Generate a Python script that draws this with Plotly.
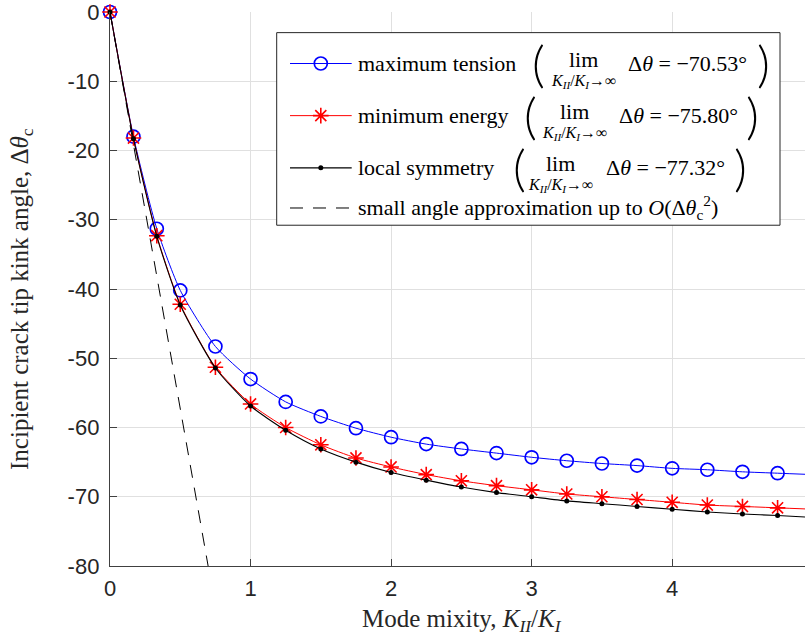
import plotly.graph_objects as go

# Mode mixity K_II/K_I at which the kink angle was evaluated
mode_mixity = [0.0, 0.167, 0.333, 0.5, 0.75, 1.0, 1.25, 1.5, 1.75, 2.0, 2.25, 2.5,
               2.75, 3.0, 3.25, 3.5, 3.75, 4.0, 4.25, 4.5, 4.75, 5.0]

# Incipient kink angle (degrees) for each criterion
max_tension = [0.0, -18.0, -31.3, -40.2, -48.3, -53.0, -56.3, -58.4, -60.1, -61.4, -62.4,
               -63.1, -63.7, -64.3, -64.8, -65.2, -65.5, -65.9, -66.1, -66.4, -66.6, -66.8]
min_energy = [0.0, -18.2, -32.3, -42.2, -51.3, -56.6, -60.0, -62.5, -64.4, -65.7, -66.8,
              -67.7, -68.4, -69.0, -69.6, -70.0, -70.4, -70.8, -71.2, -71.4, -71.6, -71.8]
local_symmetry = [0.0, -18.3, -32.4, -42.3, -51.4, -56.9, -60.4, -63.1, -65.0, -66.5, -67.6,
                  -68.6, -69.4, -70.0, -70.6, -71.0, -71.4, -71.8, -72.2, -72.5, -72.7, -73.0]

# Small angle approximation (straight line through the origin)
approx_x = [0.0, 0.70]
approx_y = [0.0, -80.2]

x_ticks = [0, 1, 2, 3, 4]
x_tick_labels = ["0", "1", "2", "3", "4"]
y_ticks = [0, -10, -20, -30, -40, -50, -60, -70, -80]
y_tick_labels = ["0", "-10", "-20", "-30", "-40", "-50", "-60", "-70", "-80"]

criteria = ["maximum tension", "minimum energy", "local symmetry"]
limit_values = ["\u221270.53\u00b0", "\u221275.80\u00b0", "\u221277.32\u00b0"]
approx_label = ("small angle approximation up to <i>O</i>(\u0394<i>\u03b8</i>"
                "<sub>c</sub><sup>2</sup>)")

W, H = 805, 639
L, R, T, B = 110, 0, 10, 73
AX = "#404040"
SERIF = "Liberation Serif"
SANS = "Liberation Sans"
DASH = "13px,10px"

fig = go.Figure()

fig.add_trace(go.Scatter(
    x=mode_mixity, y=max_tension, mode="lines+markers", cliponaxis=False,
    line=dict(color="#0000ff", width=1, shape="spline", smoothing=0.6),
    marker=dict(symbol="circle-open", size=13, color="#0000ff",
                line=dict(width=1.7, color="#0000ff")),
    showlegend=False))
fig.add_trace(go.Scatter(
    x=mode_mixity, y=min_energy, mode="lines+markers", cliponaxis=False,
    line=dict(color="#ff0000", width=1, shape="spline", smoothing=0.6),
    marker=dict(symbol="asterisk-open", size=13, color="#ff0000",
                line=dict(width=1.6, color="#ff0000")),
    showlegend=False))
fig.add_trace(go.Scatter(
    x=mode_mixity, y=local_symmetry, mode="lines+markers", cliponaxis=False,
    line=dict(color="#000000", width=1.1, shape="spline", smoothing=0.6),
    marker=dict(symbol="circle", size=5, color="#000000"),
    showlegend=False))
fig.add_trace(go.Scatter(
    x=approx_x, y=approx_y, mode="lines",
    line=dict(color="#000000", width=1, dash=DASH),
    showlegend=False))

# ---- legend, drawn on a pixel-based overlay axis pair ----
box_x0, box_x1, box_y0, box_y1 = 276.7, 780, 30.7, 224
fig.add_trace(go.Scatter(
    x=[box_x0, box_x1, box_x1, box_x0, box_x0],
    y=[box_y0, box_y0, box_y1, box_y1, box_y0],
    xaxis="x2", yaxis="y2", mode="lines", fill="toself", fillcolor="white",
    line=dict(color="#262626", width=1), hoverinfo="skip", showlegend=False))

row_y = [61.7, 114.0, 166.4, 206.7]
sample_x0, sample_x1, sample_mid = 290, 351.7, 320.8
styles = [
    dict(line=dict(color="#0000ff", width=1),
         marker=dict(symbol="circle-open", size=13, color="#0000ff",
                     line=dict(width=1.7, color="#0000ff"))),
    dict(line=dict(color="#ff0000", width=1),
         marker=dict(symbol="asterisk-open", size=13, color="#ff0000",
                     line=dict(width=1.6, color="#ff0000"))),
    dict(line=dict(color="#000000", width=1.1),
         marker=dict(symbol="circle", size=5, color="#000000")),
]
for ry, st in zip(row_y[:3], styles):
    fig.add_trace(go.Scatter(
        x=[sample_x0, sample_mid, sample_x1], y=[ry, ry, ry],
        xaxis="x2", yaxis="y2", mode="lines", line=st["line"],
        hoverinfo="skip", showlegend=False))
    fig.add_trace(go.Scatter(
        x=[sample_mid], y=[ry], xaxis="x2", yaxis="y2", mode="markers",
        marker=st["marker"], hoverinfo="skip", showlegend=False))
fig.add_trace(go.Scatter(
    x=[sample_x0, sample_x1], y=[row_y[3], row_y[3]], xaxis="x2", yaxis="y2",
    mode="lines", line=dict(color="#000000", width=1, dash=DASH),
    hoverinfo="skip", showlegend=False))

annotations = []


def txt(x, y, text, size=22, xanchor="left", yanchor="middle",
        family=SERIF, weight=None):
    font = dict(family=family, size=size, color="#000000")
    if weight is not None:
        font["weight"] = weight
    annotations.append(dict(
        x=x, y=y, xref="x2", yref="y2", text=text, showarrow=False,
        xanchor=xanchor, yanchor=yanchor, borderpad=0, font=font))


label_x = 357
open_paren_x = [538, 530, 519]
lim_x = [583, 574, 560]
expr_x = [626.7, 618.3, 605]
close_paren_x = [763, 752, 740]
sub_text = ("<i>K</i><sub><i>II</i></sub>/<i>K</i><sub><i>I</i></sub>"
            "\u2192\u221e")
for i in range(3):
    ry = row_y[i]
    txt(label_x, ry, criteria[i])
    txt(open_paren_x[i], ry - 1, "(", size=50, xanchor="center",
        family="Lato", weight=300)
    txt(lim_x[i], ry - 4, "lim", xanchor="center")
    txt(lim_x[i], ry + 18, sub_text, size=16, xanchor="center")
    txt(expr_x[i], ry, "\u0394<i>\u03b8</i> = " + limit_values[i])
    txt(close_paren_x[i], ry - 1, ")", size=50, xanchor="center",
        family="Lato", weight=300)
txt(label_x, row_y[3], approx_label)

# axis titles (paper coordinates)
pw, ph = W - L - R, H - T - B
annotations.append(dict(
    x=(462 - L) / pw, y=(H - B - 621) / ph, xref="paper", yref="paper",
    text="Mode mixity, <i>K</i><sub><i>II</i></sub>/<i>K</i><sub><i>I</i></sub>",
    showarrow=False, xanchor="center", yanchor="middle",
    font=dict(family=SERIF, size=25, color="#262626")))
annotations.append(dict(
    x=(22 - L) / pw, y=(H - B - 298) / ph, xref="paper", yref="paper",
    text="Incipient crack tip kink angle, \u0394<i>\u03b8</i><sub>c</sub>",
    textangle=-90, showarrow=False, xanchor="center", yanchor="middle",
    font=dict(family=SERIF, size=25, color="#262626")))

axis_common = dict(
    showline=True, linecolor=AX, linewidth=1.4, mirror=False,
    ticks="inside", ticklen=7, tickwidth=1, tickcolor=AX,
    showgrid=True, gridcolor="#e0e0e0", gridwidth=1, zeroline=False,
    ticklabeloverflow="allow",
    tickfont=dict(family=SANS, size=22, color="#262626"))

fig.update_layout(
    width=W, height=H,
    margin=dict(l=L, r=R, t=T, b=B, pad=0),
    paper_bgcolor="white", plot_bgcolor="white",
    xaxis=dict(range=[0, 4.945], tickvals=x_ticks, ticktext=x_tick_labels,
               ticklabelstandoff=2, **axis_common),
    yaxis=dict(range=[-80, 0], tickvals=y_ticks, ticktext=y_tick_labels,
               ticklabelstandoff=5, **axis_common),
    xaxis2=dict(overlaying="x", anchor="y2", range=[L, W - R], visible=False,
                fixedrange=True),
    yaxis2=dict(overlaying="y", anchor="x2", range=[H - B, T], visible=False,
                fixedrange=True),
    annotations=annotations,
)

fig.write_html("out.html")
